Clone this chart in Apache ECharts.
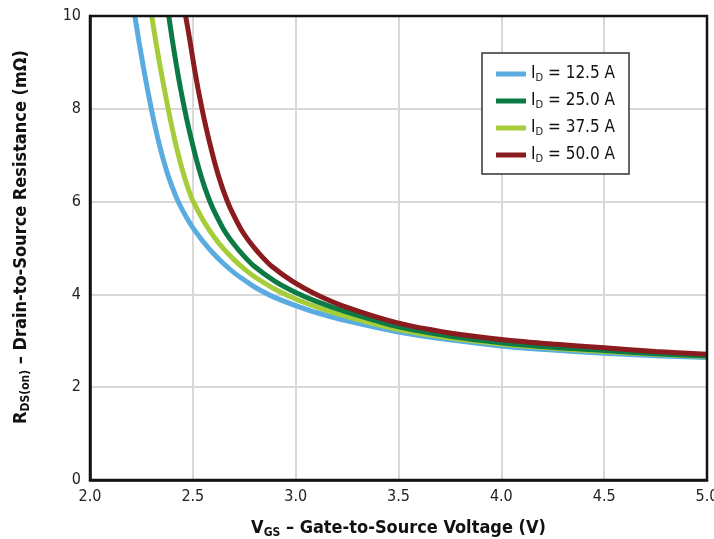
<!DOCTYPE html>
<html>
<head>
<meta charset="utf-8">
<script src="https://cdn.jsdelivr.net/npm/echarts@6/dist/echarts.min.js"></script>
<style>
html,body{margin:0;padding:0;background:#fff;}
#c{width:714px;height:539px;}
</style>
</head>
<body>
<div id="c"></div>
<script>
// Data
const seriesNames = ['12.5 A', '25.0 A', '37.5 A', '50.0 A'];
const xTicks = [2.0, 2.5, 3.0, 3.5, 4.0, 4.5, 5.0];
const yTicks = [0, 2, 4, 6, 8, 10];

const vgs_12_5 = [2.218, 2.24, 2.26, 2.28, 2.30, 2.32, 2.34, 2.36, 2.38, 2.40, 2.42, 2.44, 2.46, 2.48, 2.50, 2.55, 2.60, 2.65, 2.70, 2.75, 2.80, 2.90, 3.00, 3.10, 3.25, 3.50, 3.75, 4.00, 4.25, 4.50, 4.75, 5.00];
const rds_12_5 = [10, 9.40, 8.89, 8.41, 7.96, 7.55, 7.18, 6.85, 6.56, 6.31, 6.09, 5.90, 5.73, 5.58, 5.44, 5.14, 4.88, 4.66, 4.47, 4.31, 4.16, 3.93, 3.76, 3.61, 3.43, 3.19, 3.02, 2.89, 2.80, 2.73, 2.68, 2.64];

const vgs_25_0 = [2.383, 2.40, 2.42, 2.44, 2.46, 2.48, 2.50, 2.52, 2.54, 2.56, 2.58, 2.60, 2.65, 2.70, 2.75, 2.80, 2.90, 3.00, 3.10, 3.25, 3.50, 3.75, 4.00, 4.25, 4.50, 4.75, 5.00];
const rds_25_0 = [10, 9.49, 8.94, 8.44, 7.99, 7.58, 7.21, 6.86, 6.55, 6.28, 6.04, 5.83, 5.40, 5.08, 4.82, 4.60, 4.28, 4.04, 3.85, 3.62, 3.30, 3.10, 2.96, 2.86, 2.79, 2.72, 2.67];

const vgs_37_5 = [2.30, 2.32, 2.34, 2.36, 2.38, 2.40, 2.42, 2.44, 2.46, 2.48, 2.50, 2.55, 2.60, 2.65, 2.70, 2.75, 2.80, 2.90, 3.00, 3.10, 3.25, 3.50, 3.75, 4.00, 4.25, 4.50, 4.75, 5.00];
const rds_37_5 = [10, 9.45, 8.94, 8.46, 8.00, 7.57, 7.18, 6.83, 6.52, 6.25, 6.02, 5.60, 5.26, 4.98, 4.75, 4.55, 4.38, 4.11, 3.90, 3.73, 3.52, 3.24, 3.06, 2.93, 2.84, 2.77, 2.71, 2.66];

const vgs_50_0 = [2.465, 2.485, 2.505, 2.525, 2.545, 2.565, 2.585, 2.605, 2.625, 2.645, 2.665, 2.685, 2.735, 2.785, 2.835, 2.885, 2.985, 3.10, 3.25, 3.50, 3.75, 4.00, 4.25, 4.50, 4.75, 5.00];
const rds_50_0 = [10, 9.49, 8.94, 8.44, 7.99, 7.58, 7.21, 6.86, 6.55, 6.28, 6.04, 5.83, 5.40, 5.08, 4.82, 4.60, 4.28, 4.00, 3.72, 3.38, 3.17, 3.03, 2.93, 2.85, 2.77, 2.71];

const colors = ['#5aace0', '#0b7a45', '#a5cd3a', '#8a1b1f'];
const FONT = '"Liberation Sans Narrow", "DejaVu Sans Condensed", "Noto Sans", sans-serif';

function pairs(xs, ys) { return xs.map((x, i) => [x, ys[i]]); }
const allData = [
  pairs(vgs_12_5, rds_12_5),
  pairs(vgs_25_0, rds_25_0),
  pairs(vgs_37_5, rds_37_5),
  pairs(vgs_50_0, rds_50_0)
];

const chart = echarts.init(document.getElementById('c'), null, {renderer: 'canvas'});
const series = seriesNames.map((n, i) => ({
  name: n,
  type: 'line',
  data: allData[i],
  smooth: 0.3,
  showSymbol: false,
  symbol: 'none',
  lineStyle: {color: colors[i], width: 5},
  itemStyle: {color: colors[i]},
  z: i === 0 ? 2 : (i === 1 ? 4 : (i === 2 ? 3 : 5))
}));

const titleRich = {
  b: {fontFamily: FONT, fontSize: 18, fontWeight: 'bold', color: '#111'},
  bs: {fontFamily: FONT, fontSize: 12, fontWeight: 'bold', color: '#111', verticalAlign: 'bottom', padding: [9, 0, 0, 0]}
};

chart.setOption({
  animation: false,
  backgroundColor: '#fff',
  grid: {left: 90, right: 7, top: 16, bottom: 59, containLabel: false, outerBoundsMode: 'none',
         show: true, borderColor: '#111', borderWidth: 2.5, backgroundColor: 'transparent', z: 10},
  legend: {
    orient: 'vertical',
    left: 482, top: 53,
    padding: [10, 14, 9, 14],
    itemWidth: 30, itemHeight: 5,
    itemGap: 6,
    borderColor: '#333', borderWidth: 1.5,
    backgroundColor: '#fff',
    icon: 'rect',
    data: seriesNames,
    formatter: n => '{i|I}{s|D}{i| = ' + n + '}',
    textStyle: {
      fontFamily: FONT, fontSize: 17, color: '#111',
      rich: {
        i: {fontFamily: FONT, fontSize: 17, color: '#111', lineHeight: 20},
        s: {fontFamily: FONT, fontSize: 11, color: '#111', verticalAlign: 'bottom', padding: [10, 0, 0, 0], lineHeight: 20}
      }
    }
  },
  xAxis: {
    type: 'value', min: 2.0, max: 5.0, interval: 0.5,
    axisLine: {show: true, lineStyle: {color: '#111', width: 2.5}},
    axisTick: {show: false},
    splitLine: {show: true, lineStyle: {color: '#d8d8d8', width: 2}},
    axisLabel: {
      margin: 9, fontFamily: FONT, fontSize: 16, color: '#222',
      formatter: v => xTicks.includes(+v.toFixed(1)) ? v.toFixed(1) : ''
    },
    name: '{b|V}{bs|GS}{b| – Gate-to-Source Voltage (V)}',
    nameLocation: 'middle', nameGap: 38,
    nameTextStyle: {rich: titleRich}
  },
  yAxis: {
    type: 'value', min: 0, max: 10, interval: 2,
    axisLine: {show: true, lineStyle: {color: '#111', width: 2.5}},
    axisTick: {show: false},
    splitLine: {show: true, lineStyle: {color: '#d8d8d8', width: 2}},
    axisLabel: {
      margin: 9, fontFamily: FONT, fontSize: 16, color: '#222',
      formatter: v => yTicks.includes(v) ? String(v) : ''
    },
    name: '{b|R}{bs|DS(on)}{b| – Drain-to-Source Resistance (mΩ)}',
    nameLocation: 'middle', nameGap: 58,
    nameTextStyle: {rich: titleRich, padding: [0, 0, 0, 22]}
  },
  series: series
});
</script>
</body>
</html>
